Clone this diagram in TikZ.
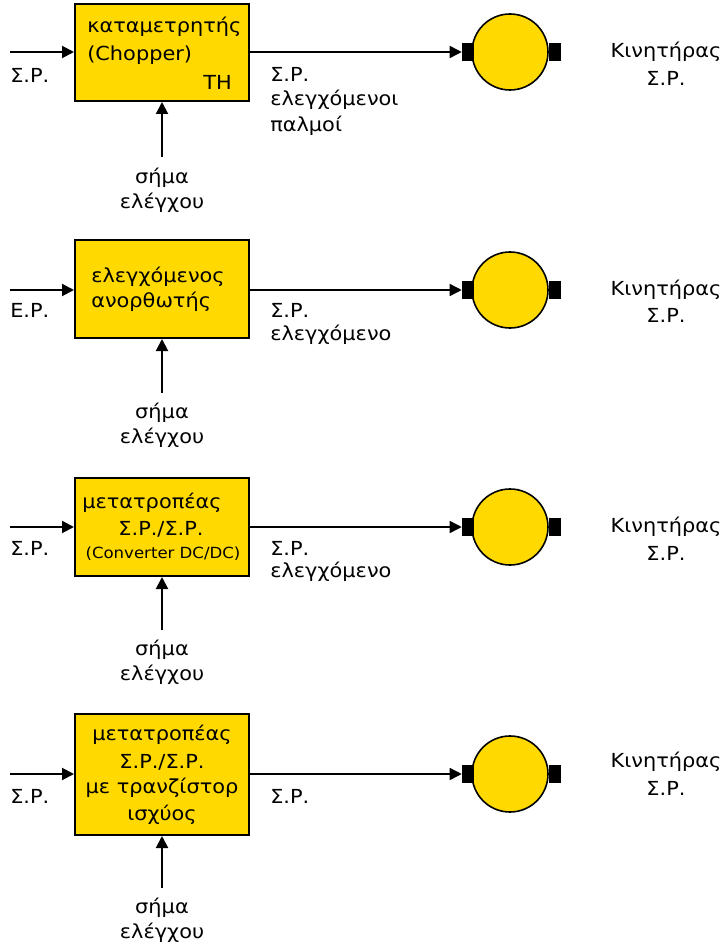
\documentclass[tikz,border=0pt]{standalone}
\usepackage{fontspec}
\setmainfont{DejaVu Sans}[FakeStretch=1.08]
\usetikzlibrary{arrows.meta}
\definecolor{boxyellow}{RGB}{255,217,0}
\tikzset{
  blk/.style={draw=black, line width=1.5pt, fill=boxyellow, minimum width=130.5pt, inner sep=0pt},
  motor/.style={circle, draw=black, line width=1.2pt, fill=boxyellow, minimum size=57pt, inner sep=0pt},
  brush/.style={rectangle, fill=black, minimum width=9pt, minimum height=13.5pt, inner sep=0pt},
  lbl/.style={inner sep=0pt, font=\fontsize{14.5}{17}\selectfont},
  small/.style={inner sep=0pt, font=\fontsize{11.5}{13}\selectfont},
  sig/.style={line width=1.5pt, -{Triangle[length=9pt,width=9pt]}},
  outsig/.style={line width=1.1pt, -{Triangle[length=9pt,width=9pt]}}
}
\begin{document}
\begin{tikzpicture}[x=0.75pt,y=-0.75pt]
\useasboundingbox (0,0) rectangle (724,948);
% ---------- Row 1 ----------
\node[blk, minimum height=72.75pt] (b1) at (162,52.5) {};
\node[lbl, anchor=west] (t1a) at (87,27) {καταμετρητής};
\node[lbl, anchor=west] (t1b) at (87,55) {(Chopper)};
\node[lbl, anchor=east] (t1c) at (232,82) {TH};
\coordinate (i1) at (10,52);
\coordinate (c1) at (162,157);
\draw[sig] (i1) -- (i1 -| b1.west);
\draw[sig] (c1) -- (b1.south);
\node[lbl, anchor=west] (l1) at (10,75) {Σ.Ρ.};
\node[lbl] (s1a) at (162,178) {σήμα};
\node[lbl] (s1b) at (162,203) {ελέγχου};
\node[motor] (m1) at (510,52) {};
\node[brush] (m1l) at (468,52) {};
\node[brush] (m1r) at (554.5,52) {};
\draw[outsig] (b1.east |- m1l) -- (m1l.west);
\node[lbl, anchor=west] (o1a) at (270,74) {Σ.Ρ.};
\node[lbl, anchor=west] (o1b) at (270,100) {ελεγχόμενοι};
\node[lbl, anchor=west] (o1c) at (270,126) {παλμοί};
\node[lbl] (k1a) at (666,52) {Κινητήρας};
\node[lbl] (k1b) at (666,78) {Σ.Ρ.};
% ---------- Row 2 ----------
\node[blk, minimum height=73.5pt] (b2) at (162,289) {};
\node[lbl, anchor=west] (t2a) at (91,277) {ελεγχόμενος};
\node[lbl, anchor=west] (t2b) at (91,302) {ανορθωτής};
\coordinate (i2) at (10,290);
\coordinate (c2) at (162,393);
\draw[sig] (i2) -- (i2 -| b2.west);
\draw[sig] (c2) -- (b2.south);
\node[lbl, anchor=west] (l2) at (10,310) {Ε.Ρ.};
\node[lbl] (s2a) at (162,413) {σήμα};
\node[lbl] (s2b) at (162,438) {ελέγχου};
\node[motor] (m2) at (510,290) {};
\node[brush] (m2l) at (468,290) {};
\node[brush] (m2r) at (554.5,290) {};
\draw[outsig] (b2.east |- m2l) -- (m2l.west);
\node[lbl, anchor=west] (o2a) at (270,310) {Σ.Ρ.};
\node[lbl, anchor=west] (o2b) at (270,335) {ελεγχόμενο};
\node[lbl] (k2a) at (666,290) {Κινητήρας};
\node[lbl] (k2b) at (666,315) {Σ.Ρ.};
% ---------- Row 3 ----------
\node[blk, minimum height=73.5pt] (b3) at (162,527) {};
\node[lbl, anchor=west] (t3a) at (82,503) {μετατροπέας};
\node[lbl] (t3b) at (161,529) {Σ.Ρ./Σ.Ρ.};
\node[small] (t3c) at (163,554) {(Converter DC/DC)};
\coordinate (i3) at (10,527);
\coordinate (c3) at (162,630);
\draw[sig] (i3) -- (i3 -| b3.west);
\draw[sig] (c3) -- (b3.south);
\node[lbl, anchor=west] (l3) at (10,548) {Σ.Ρ.};
\node[lbl] (s3a) at (162,650) {σήμα};
\node[lbl] (s3b) at (162,675) {ελέγχου};
\node[motor] (m3) at (510,527) {};
\node[brush] (m3l) at (468,527) {};
\node[brush] (m3r) at (554.5,527) {};
\draw[outsig] (b3.east |- m3l) -- (m3l.west);
\node[lbl, anchor=west] (o3a) at (270,548) {Σ.Ρ.};
\node[lbl, anchor=west] (o3b) at (270,572) {ελεγχόμενο};
\node[lbl] (k3a) at (666,527) {Κινητήρας};
\node[lbl] (k3b) at (666,553) {Σ.Ρ.};
% ---------- Row 4 ----------
\node[blk, minimum height=90.75pt] (b4) at (162,774.5) {};
\node[lbl] (t4a) at (162,735) {μετατροπέας};
\node[lbl] (t4b) at (162,762) {Σ.Ρ./Σ.Ρ.};
\node[lbl] (t4c) at (162,788) {με τρανζίστορ};
\node[lbl] (t4d) at (162,815) {ισχύος};
\coordinate (i4) at (10,774);
\coordinate (c4) at (162,888);
\draw[sig] (i4) -- (i4 -| b4.west);
\draw[sig] (c4) -- (b4.south);
\node[lbl, anchor=west] (l4) at (10,796) {Σ.Ρ.};
\node[lbl] (s4a) at (162,908) {σήμα};
\node[lbl] (s4b) at (162,933) {ελέγχου};
\node[motor] (m4) at (510,774) {};
\node[brush] (m4l) at (468,774) {};
\node[brush] (m4r) at (554.5,774) {};
\draw[outsig] (b4.east |- m4l) -- (m4l.west);
\node[lbl, anchor=west] (o4a) at (270,796) {Σ.Ρ.};
\node[lbl] (k4a) at (666,762) {Κινητήρας};
\node[lbl] (k4b) at (666,788) {Σ.Ρ.};
\end{tikzpicture}
\end{document}
